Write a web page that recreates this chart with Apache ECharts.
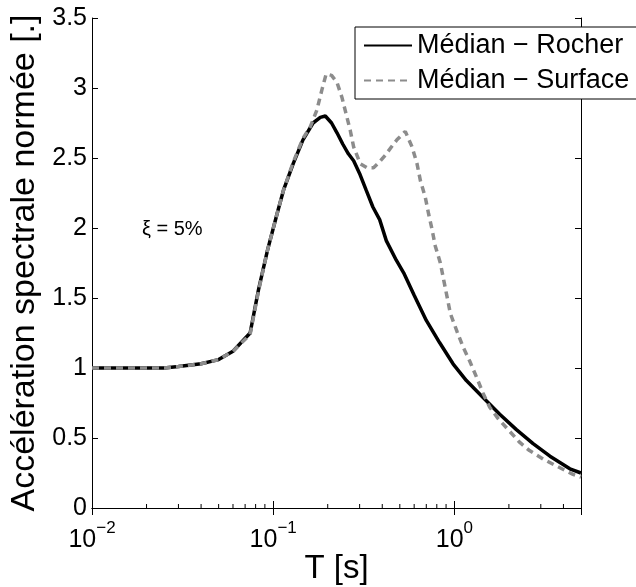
<!DOCTYPE html>
<html>
<head>
<meta charset="utf-8">
<script src="https://cdn.jsdelivr.net/npm/echarts@6/dist/echarts.min.js"></script>
<style>
  html, body { margin: 0; padding: 0; background: #fff; }
  #main { width: 636px; height: 587px; }
</style>
</head>
<body>
<div id="main"></div>
<script>
var dom = document.getElementById("main");
var myChart = echarts.init(dom);

// periode [s] et acceleration spectrale normee
var rocherT = [0.01, 0.015, 0.02, 0.025, 0.03, 0.04, 0.05, 0.06, 0.0746, 0.083, 0.093, 0.105, 0.114, 0.129, 0.146, 0.166, 0.182, 0.194, 0.21, 0.225, 0.242, 0.26, 0.278, 0.302, 0.326, 0.355, 0.387, 0.421, 0.478, 0.525, 0.6, 0.7, 0.83, 0.983, 1.165, 1.44, 1.78, 2.2, 2.72, 3.37, 4.34, 5];
var rocherA = [1.0, 1.0, 1.0, 1.0, 1.01, 1.03, 1.06, 1.12, 1.25, 1.56, 1.84, 2.1, 2.27, 2.46, 2.63, 2.75, 2.79, 2.80, 2.75, 2.68, 2.6, 2.53, 2.48, 2.38, 2.27, 2.15, 2.06, 1.91, 1.77, 1.68, 1.52, 1.34, 1.18, 1.03, 0.91, 0.79, 0.67, 0.56, 0.46, 0.37, 0.28, 0.25];

var surfaceT = [0.01, 0.015, 0.02, 0.025, 0.03, 0.04, 0.05, 0.06, 0.0746, 0.083, 0.093, 0.105, 0.114, 0.129, 0.146, 0.16, 0.174, 0.186, 0.196, 0.21, 0.225, 0.24, 0.252, 0.266, 0.278, 0.302, 0.33, 0.358, 0.385, 0.416, 0.45, 0.482, 0.536, 0.584, 0.622, 0.649, 0.691, 0.721, 0.753, 0.785, 0.837, 0.873, 0.911, 0.95, 1.035, 1.117, 1.215, 1.32, 1.44, 1.567, 1.74, 1.98, 2.29, 2.6, 3.09, 3.66, 4.52, 5];
var surfaceA = [1.0, 1.0, 1.0, 1.0, 1.01, 1.03, 1.06, 1.12, 1.24, 1.55, 1.84, 2.1, 2.27, 2.47, 2.64, 2.72, 2.84, 2.99, 3.1, 3.09, 3.04, 2.93, 2.82, 2.70, 2.58, 2.46, 2.43, 2.43, 2.47, 2.52, 2.58, 2.63, 2.69, 2.58, 2.46, 2.34, 2.22, 2.10, 1.99, 1.87, 1.75, 1.63, 1.51, 1.39, 1.26, 1.15, 1.05, 0.94, 0.82, 0.72, 0.64, 0.56, 0.47, 0.41, 0.35, 0.30, 0.24, 0.22];

// graduations secondaires de l'axe log
var minorT = [0.02, 0.03, 0.04, 0.05, 0.06, 0.07, 0.08, 0.09, 0.2, 0.3, 0.4, 0.5, 0.6, 0.7, 0.8, 0.9, 2, 3, 4];

var seriesNames = ['Médian − Rocher', 'Médian − Surface'];
var FONT = 'Liberation Sans, Arial, sans-serif';

function pairs(xs, ys) {
    return xs.map(function (x, i) { return [x, ys[i]]; });
}

var xBase = {
    type: 'log',
    logBase: 10,
    min: 0.01,
    max: 5,
    axisLine: { show: true, lineStyle: { color: '#000', width: 1 } },
    axisTick: { show: true, inside: true, length: 7, lineStyle: { color: '#000' } },
    splitLine: { show: false },
    minorTick: { show: false }
};

var yBase = {
    type: 'value',
    min: 0,
    max: 3.5,
    interval: 0.5,
    axisLine: { show: true, lineStyle: { color: '#000', width: 1 } },
    axisTick: { show: true, inside: true, length: 6, lineStyle: { color: '#000' } },
    splitLine: { show: false }
};

var option = {
    animation: false,
    backgroundColor: '#fff',
    grid: { left: 92, right: 55, top: 18, bottom: 79, outerBoundsMode: 'none' },
    legend: {
        data: seriesNames,
        orient: 'vertical',
        left: 355,
        top: 27,
        padding: [5, 8, 5, 8],
        itemGap: 8,
        itemWidth: 48,
        itemHeight: 14,
        backgroundColor: '#fff',
        borderColor: '#000',
        borderWidth: 1,
        borderRadius: 0,
        itemStyle: { opacity: 0 },
        textStyle: { fontSize: 27, color: '#000', fontFamily: FONT }
    },
    xAxis: [
        Object.assign({}, xBase, {
            position: 'bottom',
            name: 'T [s]',
            nameLocation: 'middle',
            nameGap: 44,
            nameMoveOverlap: false,
            nameTextStyle: { fontSize: 33, color: '#000', fontFamily: FONT },
            axisLabel: {
                margin: 12,
                color: '#000',
                fontFamily: FONT,
                formatter: function (v) {
                    var e = Math.log(v) / Math.LN10;
                    if (Math.abs(e - Math.round(e)) > 1e-6) return '';
                    e = Math.round(e);
                    return '{b|10}{s|' + (e < 0 ? '−' + (-e) : e) + '}';
                },
                rich: {
                    b: { fontSize: 25, lineHeight: 33, verticalAlign: 'bottom', color: '#000', fontFamily: FONT },
                    s: { fontSize: 17, verticalAlign: 'top', color: '#000', fontFamily: FONT }
                }
            }
        }),
        Object.assign({}, xBase, {
            position: 'top',
            axisLabel: { show: false }
        })
    ],
    yAxis: [
        Object.assign({}, yBase, {
            position: 'left',
            name: 'Accélération spectrale normée [.]',
            nameLocation: 'middle',
            nameGap: 50,
            nameMoveOverlap: false,
            nameTextStyle: { fontSize: 34, color: '#000', fontFamily: FONT },
            axisLabel: { margin: 5, fontSize: 25, color: '#000', fontFamily: FONT }
        }),
        Object.assign({}, yBase, {
            position: 'right',
            axisLabel: { show: false }
        })
    ],
    graphic: [
        {
            type: 'text',
            left: 142,
            top: 219,
            style: { text: 'ξ = 5%', fontSize: 20, fill: '#000', fontFamily: FONT }
        }
    ],
    series: [
        {
            name: seriesNames[0],
            type: 'line',
            data: pairs(rocherT, rocherA),
            symbol: 'none',
            lineStyle: { color: '#000', width: 3.5 },
            itemStyle: { color: '#000' },
            z: 3
        },
        {
            name: seriesNames[1],
            type: 'line',
            data: pairs(surfaceT, surfaceA),
            symbol: 'none',
            lineStyle: { color: '#8c8c8c', width: 3.5, type: [7, 5] },
            itemStyle: { color: '#8c8c8c' },
            z: 4
        },
        {
            type: 'custom',
            silent: true,
            data: minorT.map(function (v) { return [v, 0]; }),
            encode: { x: 0, y: 1 },
            renderItem: function (params, api) {
                var p = api.coord([api.value(0), 0]);
                return {
                    type: 'line',
                    shape: { x1: p[0], y1: p[1], x2: p[0], y2: p[1] - 4 },
                    style: { stroke: '#000', lineWidth: 1 }
                };
            },
            z: 5
        }
    ]
};

myChart.setOption(option);
</script>
</body>
</html>
